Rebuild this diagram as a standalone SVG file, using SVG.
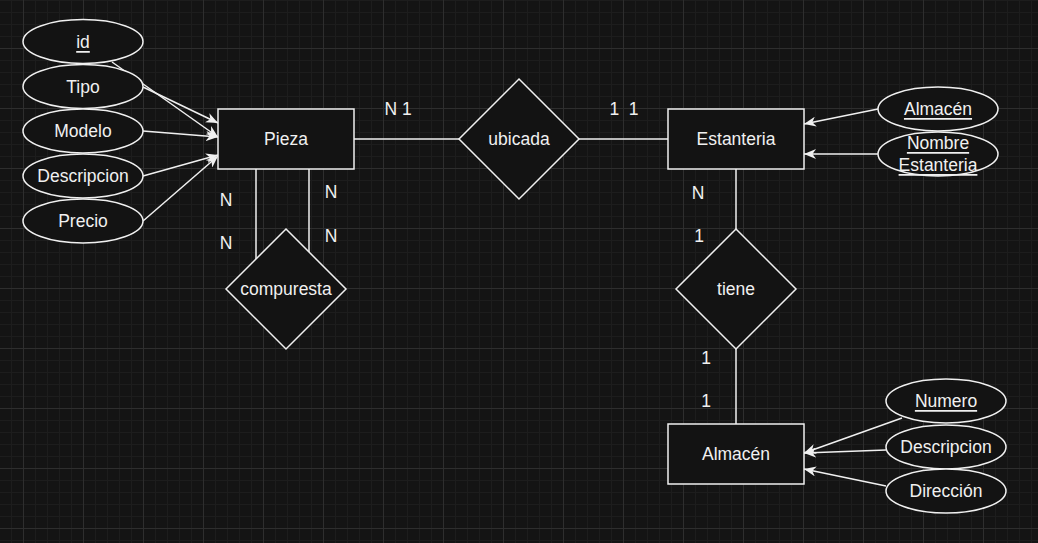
<svg xmlns="http://www.w3.org/2000/svg" width="1038" height="543" viewBox="0 0 1038 543">
<defs>
<pattern id="grid" x="23" y="48" width="60" height="60" patternUnits="userSpaceOnUse">
<rect x="0" y="0" width="60" height="60" fill="#141414"/>
<g fill="#1d1d1d">
<rect x="12" y="0" width="1" height="60"/><rect x="24" y="0" width="1" height="60"/><rect x="36" y="0" width="1" height="60"/><rect x="48" y="0" width="1" height="60"/>
<rect x="0" y="12" width="60" height="1"/><rect x="0" y="24" width="60" height="1"/><rect x="0" y="36" width="60" height="1"/><rect x="0" y="48" width="60" height="1"/>
</g>
<g fill="#2e2e2e">
<rect x="0" y="0" width="1" height="60"/><rect x="0" y="0" width="60" height="1"/>
</g>
</pattern>
<marker id="arr" viewBox="0 0 12 10" refX="12" refY="5" markerWidth="12" markerHeight="10" markerUnits="userSpaceOnUse" orient="auto">
<path d="M0,0 L12,5 L0,10 L3.5,5 z" fill="#f0f0f0"/>
</marker>
<style>
.shape{fill:#131313;stroke:#f0f0f0;stroke-width:1.5}
.t{font-family:"Liberation Sans",Arial,sans-serif;font-size:17.5px;fill:#f0f0f0;text-anchor:middle;dominant-baseline:central}
.u{text-decoration:underline}
.c{stroke:#f0f0f0;stroke-width:1.5;fill:none}
.a{marker-end:url(#arr)}
</style>
</defs>
<rect width="1038" height="543" fill="url(#grid)"/>
<g id="connectors">
<line class="c a" x1="112" y1="62" x2="218" y2="137"/>
<line class="c a" x1="143" y1="87" x2="218" y2="123"/>
<line class="c a" x1="143" y1="131" x2="218" y2="137"/>
<line class="c a" x1="143" y1="176" x2="218" y2="155"/>
<line class="c a" x1="143" y1="221" x2="218" y2="156"/>
<line class="c" x1="256" y1="169" x2="256" y2="259"/>
<line class="c" x1="309" y1="169" x2="309" y2="252"/>
<line class="c" x1="354" y1="139" x2="459" y2="139"/>
<line class="c" x1="579" y1="139" x2="668" y2="139"/>
<line class="c a" x1="878" y1="109" x2="804" y2="124"/>
<line class="c a" x1="878" y1="154" x2="804" y2="154"/>
<line class="c" x1="736" y1="169" x2="736" y2="229"/>
<line class="c" x1="736" y1="349" x2="736" y2="424"/>
<line class="c a" x1="902" y1="418" x2="804" y2="453"/>
<line class="c a" x1="886" y1="450" x2="804" y2="453"/>
<line class="c a" x1="886" y1="486" x2="804" y2="469"/>
</g>
<g id="labels">
<text class="t" x="226" y="200">N</text>
<text class="t" x="226" y="243">N</text>
<text class="t" x="331" y="192">N</text>
<text class="t" x="331" y="236">N</text>
<text class="t" x="398" y="109">N 1</text>
<text class="t" x="624" y="109" xml:space="preserve">1  1</text>
<text class="t" x="698" y="193">N</text>
<text class="t" x="699" y="236">1</text>
<text class="t" x="706" y="358">1</text>
<text class="t" x="706" y="401">1</text>
</g>
<g id="attr-id"><ellipse class="shape" cx="83" cy="41.5" rx="60" ry="22"/><text class="t u" x="83" y="42">id</text></g>
<g id="attr-tipo"><ellipse class="shape" cx="83" cy="86.5" rx="60" ry="22"/><text class="t" x="83" y="87">Tipo</text></g>
<g id="attr-modelo"><ellipse class="shape" cx="83" cy="131" rx="60" ry="22"/><text class="t" x="83" y="131">Modelo</text></g>
<g id="attr-descripcion-pieza"><ellipse class="shape" cx="83" cy="176" rx="60" ry="22"/><text class="t" x="83" y="176">Descripcion</text></g>
<g id="attr-precio"><ellipse class="shape" cx="83" cy="221" rx="60" ry="22"/><text class="t" x="83" y="221">Precio</text></g>
<g id="pieza"><rect class="shape" x="218" y="109" width="136" height="60"/><text class="t" x="286" y="139">Pieza</text></g>
<g id="compuresta"><polygon class="shape" points="286,229 346,289 286,349 226,289"/><text class="t" x="286" y="289">compuresta</text></g>
<g id="ubicada"><polygon class="shape" points="519,79 579,139 519,199 459,139"/><text class="t" x="519" y="139">ubicada</text></g>
<g id="estanteria"><rect class="shape" x="668" y="109" width="136" height="60"/><text class="t" x="736" y="139">Estanteria</text></g>
<g id="attr-almacen"><ellipse class="shape" cx="938" cy="109" rx="60" ry="22"/><text class="t u" x="938" y="109">Almacén</text></g>
<g id="attr-nombre-estanteria"><ellipse class="shape" cx="938" cy="154" rx="60" ry="22"/><text class="t u" x="938" y="143">Nombre</text><text class="t u" x="938" y="165">Estanteria</text></g>
<g id="tiene"><polygon class="shape" points="736,229 796,289 736,349 676,289"/><text class="t" x="736" y="289">tiene</text></g>
<g id="almacen"><rect class="shape" x="668" y="424" width="136" height="60"/><text class="t" x="736" y="454">Almacén</text></g>
<g id="attr-numero"><ellipse class="shape" cx="946" cy="401" rx="60" ry="22"/><text class="t u" x="946" y="401">Numero</text></g>
<g id="attr-descripcion-almacen"><ellipse class="shape" cx="946" cy="447" rx="60" ry="22"/><text class="t" x="946" y="447">Descripcion</text></g>
<g id="attr-direccion"><ellipse class="shape" cx="946" cy="491" rx="60" ry="22"/><text class="t" x="946" y="491">Dirección</text></g>
</svg>
